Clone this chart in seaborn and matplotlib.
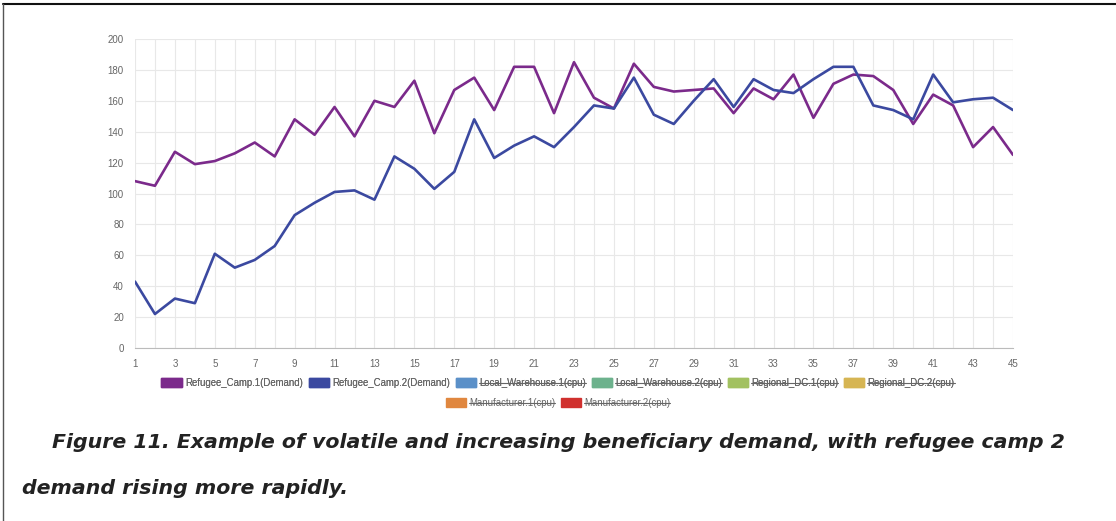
import numpy as np
import pandas as pd
import matplotlib.pyplot as plt
import seaborn as sns
from matplotlib.patches import Patch
from matplotlib.lines import Line2D

# periods 1..45
periods = list(range(1, 46))
camp1 = [108, 105, 127, 119, 121, 126, 133, 124, 148, 138,
         156, 137, 160, 156, 173, 139, 167, 175, 154, 182,
         182, 152, 185, 162, 155, 184, 169, 166, 167, 168,
         152, 168, 161, 177, 149, 171, 177, 176, 167, 145,
         164, 157, 130, 143, 125]
camp2 = [43, 22, 32, 29, 61, 52, 57, 66, 86, 94,
         101, 102, 96, 124, 116, 103, 114, 148, 123, 131,
         137, 130, 143, 157, 155, 175, 151, 145, 160, 174,
         156, 174, 167, 165, 174, 182, 182, 157, 154, 148,
         177, 159, 161, 162, 154]

series_names = ["Refugee_Camp.1(Demand)", "Refugee_Camp.2(Demand)"]
hidden_names = ["Local_Warehouse.1(cpu)", "Local_Warehouse.2(cpu)",
                "Regional_DC.1(cpu)", "Regional_DC.2(cpu)",
                "Manufacturer.1(cpu)", "Manufacturer.2(cpu)"]
colors = {"Refugee_Camp.1(Demand)": "#7b2a8b", "Refugee_Camp.2(Demand)": "#3b49a0",
          "Local_Warehouse.1(cpu)": "#5b90c8", "Local_Warehouse.2(cpu)": "#6db28d",
          "Regional_DC.1(cpu)": "#a2c160", "Regional_DC.2(cpu)": "#d6b553",
          "Manufacturer.1(cpu)": "#e0873f", "Manufacturer.2(cpu)": "#d0302e"}

caption1 = "Figure 11. Example of volatile and increasing beneficiary demand, with refugee camp 2"
caption2 = "demand rising more rapidly."

df = pd.DataFrame({"period": periods * 2,
                   "value": camp1 + camp2,
                   "series": [series_names[0]] * 45 + [series_names[1]] * 45})

sns.set_style("white")
plt.rcParams['font.family'] = ['Liberation Sans', 'DejaVu Sans']

W, H = 1116, 521
fig = plt.figure(figsize=(W / 100, H / 100), dpi=100)
ax = fig.add_axes([135 / W, 1 - 348 / H, (1013 - 135) / W, (348 - 39) / H])

sns.lineplot(data=df, x="period", y="value", hue="series", hue_order=series_names,
             palette=colors, linewidth=1.9, legend=False, ax=ax)

ax.set_xlim(1, 45)
ax.set_ylim(0, 200)
ax.set_xticks(range(1, 46))
ax.set_xticklabels([str(p) if p % 2 == 1 else "" for p in periods])
ax.set_yticks(range(0, 201, 20))
ax.grid(True, color="#e8e8e8", linewidth=0.8)
ax.set_axisbelow(True)
ax.set_xlabel("")
ax.set_ylabel("")
for s in ["top", "right", "left"]:
    ax.spines[s].set_visible(False)
ax.spines["bottom"].set_color("#bbbbbb")
ax.tick_params(axis="both", colors="#e8e8e8", labelcolor="#666666", labelsize=7,
               length=6, width=0.8, pad=2)

# legend (two centered rows, like chart.js)
def make_legend(names, y):
    handles = [Patch(facecolor=colors[n], edgecolor=colors[n]) for n in names]
    leg = fig.legend(handles, names, loc="center", bbox_to_anchor=(0.5, 1 - y / H),
                     ncol=len(names), frameon=False, fontsize=6.9, handlelength=2.1,
                     handleheight=1.05, handletextpad=0.35, columnspacing=0.6,
                     borderpad=0)
    for t in leg.get_texts():
        t.set_color("#666666")
    return leg

leg1 = make_legend(series_names + hidden_names[:4], 383)
leg2 = make_legend(hidden_names[4:], 403)
fig.add_artist(leg1)

# caption, sized so the first line spans like the original
cap_kw = dict(fontweight="bold", style="italic", family=["DejaVu Sans"],
              color="#222222", va="center", ha="left")
t1 = fig.text(52 / W, 1 - 443 / H, caption1, fontsize=14, **cap_kw)
fig.canvas.draw()
w1 = t1.get_window_extent(fig.canvas.get_renderer()).width
fs = 14 * 1016 / w1
t1.set_fontsize(fs)
fig.text(22 / W, 1 - 488 / H, caption2, fontsize=fs, **cap_kw)

# frame lines top and left
fig.add_artist(Line2D([3 / W, 1], [1 - 4 / H, 1 - 4 / H], color="#111111", linewidth=1.5))
fig.add_artist(Line2D([3 / W, 3 / W], [0, 1 - 4 / H], color="#555555", linewidth=1.0))

# strike through hidden datasets
fig.canvas.draw()
renderer = fig.canvas.get_renderer()
for leg in (leg1, leg2):
    for t in leg.get_texts():
        if t.get_text() in hidden_names:
            bb = t.get_window_extent(renderer)
            ym = (bb.y0 + bb.y1) / 2 / H
            fig.add_artist(Line2D([bb.x0 / W, bb.x1 / W], [ym, ym],
                                  color="#666666", linewidth=0.8))

fig.savefig("out.png", dpi=100)
